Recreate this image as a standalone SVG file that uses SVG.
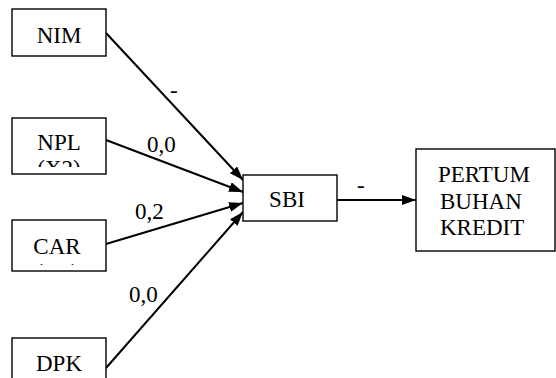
<svg xmlns="http://www.w3.org/2000/svg" width="556" height="378" viewBox="0 0 556 378">
<defs>
<marker id="ah" viewBox="0 0 14 10" refX="14" refY="5" markerWidth="14" markerHeight="10" markerUnits="userSpaceOnUse" orient="auto">
<path d="M0,0 L14,5 L0,10 z" fill="#000"/>
</marker>
<clipPath id="clipNPL"><rect x="12" y="118" width="94" height="49"/></clipPath>
<clipPath id="clipCAR"><rect x="12" y="220" width="94" height="45"/></clipPath>
</defs>
<rect width="556" height="378" fill="#fff"/>
<g font-family="Liberation Serif, Times New Roman, serif" font-size="23" fill="#000">
<g id="connectors" stroke="#000" stroke-width="2">
<line x1="106" y1="33" x2="243" y2="180" marker-end="url(#ah)"/>
<line x1="106" y1="140" x2="243" y2="192" marker-end="url(#ah)"/>
<line x1="106" y1="244" x2="243" y2="203" marker-end="url(#ah)"/>
<line x1="106" y1="368" x2="243" y2="212" marker-end="url(#ah)"/>
<line x1="337" y1="200" x2="416" y2="200" marker-end="url(#ah)"/>
<g stroke="none">
<text x="170" y="98">-</text>
<text x="147" y="152">0,0</text>
<text x="135" y="219">0,2</text>
<text x="129" y="302">0,0</text>
<text x="357" y="193">-</text>
</g>
</g>
<g fill="#fff" stroke="#000" stroke-width="1.4">
<g id="NIM">
<rect x="12" y="9" width="94" height="47"/>
<text x="59" y="43" text-anchor="middle" fill="#000" stroke="none">NIM</text>
</g>
<g id="NPL">
<rect x="12" y="118" width="94" height="56"/>
<g clip-path="url(#clipNPL)" fill="#000" stroke="none" text-anchor="middle">
<text x="59" y="150">NPL</text>
<text x="59" y="176">(X2)</text>
</g>
</g>
<g id="CAR">
<rect x="12" y="220" width="94" height="51"/>
<g clip-path="url(#clipCAR)" fill="#000" stroke="none" text-anchor="middle">
<text x="57" y="254">CAR</text>
<text x="57" y="280">(X3)</text>
</g>
</g>
<g id="DPK">
<rect x="12" y="338" width="94" height="50"/>
<text x="59" y="371" text-anchor="middle" fill="#000" stroke="none">DPK</text>
</g>
<g id="SBI">
<rect x="243" y="175" width="94" height="46"/>
<text x="287" y="207" text-anchor="middle" fill="#000" stroke="none">SBI</text>
</g>
<g id="PERTUMBUHAN">
<rect x="416" y="149" width="139" height="102"/>
<g fill="#000" stroke="none">
<text x="438" y="182">PERTUM</text>
<text x="440" y="209">BUHAN</text>
<text x="440" y="235">KREDIT</text>
</g>
</g>
</g>
</g>
</svg>
